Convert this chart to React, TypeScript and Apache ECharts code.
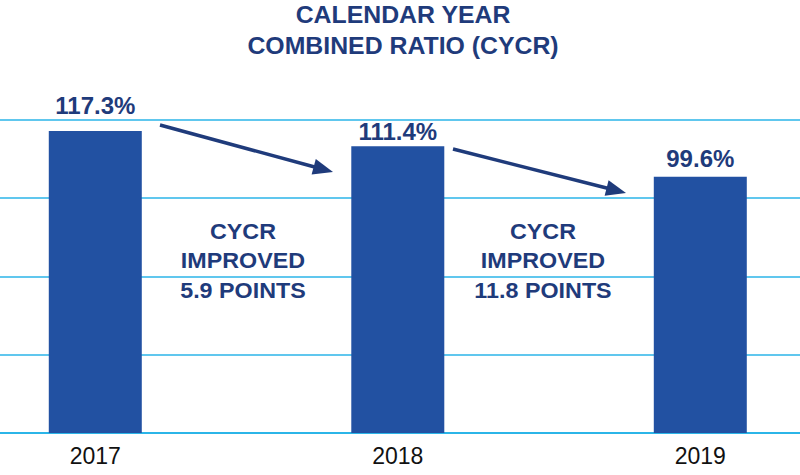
import React, { useEffect, useRef } from "react";
import * as echarts from "echarts";

const years = ["2017", "2018", "2019"];
const cycr = [117.3, 111.4, 99.6];
const titleLines = ["CALENDAR YEAR", "COMBINED RATIO (CYCR)"];
const notes = ["CYCR\nIMPROVED\n5.9 POINTS", "CYCR\nIMPROVED\n11.8 POINTS"];

const NAVY = "#1f3b7b";
const BAR = "#2251a2";
const GRID = "#2bb5e8";
const FONT = "'Liberation Sans', Arial, sans-serif";

function arrow(x1: number, y1: number, x2: number, y2: number) {
  const ang = Math.atan2(y2 - y1, x2 - x1);
  const hl = 20;
  const hw = 8;
  const bx = x2 - hl * Math.cos(ang);
  const by = y2 - hl * Math.sin(ang);
  const px = -Math.sin(ang);
  const py = Math.cos(ang);
  return [
    {
      type: "line",
      shape: { x1, y1, x2: bx + 2 * Math.cos(ang), y2: by + 2 * Math.sin(ang) },
      style: { stroke: NAVY, lineWidth: 3.5 },
    },
    {
      type: "polygon",
      shape: {
        points: [
          [x2, y2],
          [bx + px * hw, by + py * hw],
          [bx - px * hw, by - py * hw],
        ],
      },
      style: { fill: NAVY },
    },
  ];
}

export default function App() {
  const ref = useRef<HTMLDivElement>(null);
  useEffect(() => {
    if (!ref.current) return;
    const chart = echarts.init(ref.current, null, { renderer: "svg" });
    const labelDist = [14, 3, 6];
    const titleY = [15, 45.5];
    chart.setOption({
      animation: false,
      backgroundColor: "#ffffff",
      grid: { left: 0, right: 0, top: 120, bottom: 42 },
      xAxis: {
        type: "value",
        min: -0.315,
        max: 2.3296,
        splitLine: { show: false },
        axisLine: { show: true, onZero: false, lineStyle: { color: GRID, width: 2 } },
        axisTick: { show: false },
        axisLabel: {
          customValues: [0, 1, 2],
          formatter: (v: number) => years[Math.round(v)] ?? "",
          color: "#111111",
          fontFamily: FONT,
          fontSize: 23,
          margin: 11,
        },
      },
      yAxis: {
        type: "value",
        min: 0,
        max: 121.6,
        interval: 30.4,
        axisLine: { show: false },
        axisTick: { show: false },
        axisLabel: { show: false },
        splitLine: { lineStyle: { color: GRID, width: 1.5 } },
      },
      series: [
        {
          type: "bar",
          barWidth: 93,
          data: cycr.map((v, i) => ({
            value: [i, v],
            label: { distance: labelDist[i] },
          })),
          itemStyle: { color: BAR },
          label: {
            show: true,
            position: "top",
            color: NAVY,
            fontFamily: FONT,
            fontSize: 24,
            fontWeight: "bold",
            lineHeight: 24,
            formatter: (p: any) => p.value[1].toFixed(1) + "%",
          },
        },
      ],
      graphic: [
        ...titleLines.map((t, i) => ({
          type: "text",
          x: 403,
          y: titleY[i],
          scaleX: 1.08,
          style: {
            text: t,
            fill: NAVY,
            font: `bold 23px ${FONT}`,
            align: "center",
            verticalAlign: "middle",
          },
        })),
        ...arrow(160, 125, 333, 172),
        ...arrow(453, 149, 626, 193),
        ...notes.map((t, i) => ({
          type: "text",
          x: i === 0 ? 243 : 543,
          y: 216,
          scaleX: 1.06,
          style: {
            text: t,
            fill: NAVY,
            font: `bold 22px ${FONT}`,
            lineHeight: 29.5,
            align: "center",
          },
        })),
      ],
    });
    return () => chart.dispose();
  }, []);
  return (
    <div
      ref={ref}
      style={{ position: "absolute", left: 0, top: 0, width: 800, height: 475 }}
    />
  );
}
